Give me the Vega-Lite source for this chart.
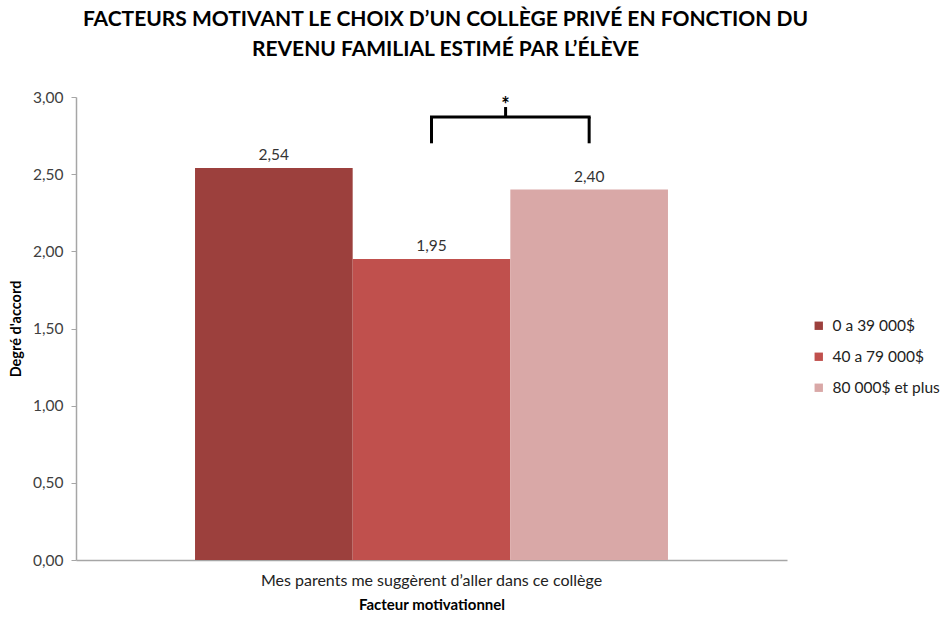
{
  "$schema": "https://vega.github.io/schema/vega-lite/v6.json",
  "width": 711,
  "height": 463,
  "autosize": {"type": "none"},
  "padding": {"left": 76, "top": 97, "right": 154, "bottom": 57},
  "background": "white",
  "config": {
    "font": "Lato",
    "view": {"stroke": null},
    "locale": {"number": {"decimal": ",", "thousands": " ", "grouping": [3], "currency": ["", " $"]}}
  },
  "title": {
    "text": ["FACTEURS MOTIVANT LE CHOIX D’UN COLLÈGE PRIVÉ EN FONCTION DU", "REVENU FAMILIAL ESTIMÉ PAR L’ÉLÈVE"],
    "font": "Lato",
    "fontSize": 21,
    "fontWeight": "bold",
    "color": "#000000",
    "anchor": "middle",
    "dx": 14,
    "offset": 30,
    "lineHeight": 30
  },
  "datasets": {
    "barres": [
      {"groupe": "0 a 39 000$", "degre": 2.54},
      {"groupe": "40 a 79 000$", "degre": 1.95},
      {"groupe": "80 000$ et plus", "degre": 2.40}
    ],
    "categorie": [
      {"facteur": "Mes parents me suggèrent d’aller dans ce collège", "groupe": "40 a 79 000$"}
    ],
    "accolade": [
      {"de": "40 a 79 000$", "a": "80 000$ et plus", "haut": 2.87, "bas": 2.70, "pointe": 2.935, "signe": "*"}
    ],
    "jambes": [
      {"groupe": "40 a 79 000$", "haut": 2.87, "bas": 2.70},
      {"groupe": "80 000$ et plus", "haut": 2.87, "bas": 2.70}
    ]
  },
  "layer": [
    {
      "data": {"name": "barres"},
      "mark": {"type": "bar"},
      "encoding": {
        "x": {
          "field": "groupe", "type": "nominal",
          "scale": {"domain": ["0 a 39 000$", "40 a 79 000$", "80 000$ et plus"], "paddingInner": 0, "paddingOuter": 0.755},
          "axis": {
            "title": "Facteur motivationnel", "titleFontSize": 15, "titleFontWeight": "bold", "titleColor": "#000000",
            "titlePadding": 37, "labels": false, "ticks": false, "domainColor": "#a6a6a6", "domainWidth": 1.5, "grid": false
          }
        },
        "y": {
          "field": "degre", "type": "quantitative",
          "scale": {"domain": [0, 3], "nice": false},
          "axis": {
            "title": "Degré d'accord", "titleFontSize": 14.5, "titleFontWeight": "bold", "titleColor": "#000000",
            "titlePadding": 9, "values": [0, 0.5, 1, 1.5, 2, 2.5, 3], "format": ".2f",
            "labelFontSize": 15.5, "labelColor": "#404040", "labelPadding": 8,
            "tickSize": 5, "tickColor": "#a6a6a6", "domainColor": "#a6a6a6", "domainWidth": 1.5, "grid": false
          }
        },
        "color": {
          "field": "groupe", "type": "nominal",
          "scale": {"domain": ["0 a 39 000$", "40 a 79 000$", "80 000$ et plus"], "range": ["#9c403d", "#c0504d", "#d9a8a7"]},
          "legend": {
            "title": null, "orient": "none", "legendX": 735, "legendY": 221,
            "symbolType": "square", "symbolSize": 70, "symbolStrokeWidth": 0,
            "labelFontSize": 15.5, "labelColor": "#222222", "rowPadding": 14, "labelOffset": 6
          }
        }
      }
    },
    {
      "data": {"name": "barres"},
      "mark": {"type": "text", "baseline": "alphabetic", "dy": -8, "fontSize": 15.5, "color": "#333333"},
      "encoding": {
        "x": {"field": "groupe", "type": "nominal"},
        "y": {"field": "degre", "type": "quantitative"},
        "text": {"field": "degre", "type": "quantitative", "format": ".2f"}
      }
    },
    {
      "data": {"name": "categorie"},
      "mark": {"type": "text", "baseline": "middle", "dy": 21, "fontSize": 16, "color": "#222222"},
      "encoding": {
        "x": {"field": "groupe", "type": "nominal"},
        "y": {"datum": 0},
        "text": {"field": "facteur"}
      }
    },
    {
      "data": {"name": "accolade"},
      "mark": {"type": "rule", "strokeWidth": 3, "color": "#000000", "strokeCap": "square"},
      "encoding": {
        "x": {"field": "de", "type": "nominal"},
        "x2": {"field": "a"},
        "y": {"field": "haut", "type": "quantitative"}
      }
    },
    {
      "data": {"name": "jambes"},
      "mark": {"type": "rule", "strokeWidth": 3, "color": "#000000"},
      "encoding": {
        "x": {"field": "groupe", "type": "nominal"},
        "y": {"field": "haut", "type": "quantitative"},
        "y2": {"field": "bas"}
      }
    },
    {
      "data": {"name": "accolade"},
      "mark": {"type": "rule", "strokeWidth": 3, "color": "#000000"},
      "encoding": {
        "x": {"field": "de", "type": "nominal", "bandPosition": 0.97},
        "y": {"field": "haut", "type": "quantitative"},
        "y2": {"field": "pointe"}
      }
    },
    {
      "data": {"name": "accolade"},
      "mark": {"type": "text", "baseline": "alphabetic", "dy": 5, "fontSize": 20, "fontWeight": "bold", "color": "#000000"},
      "encoding": {
        "x": {"field": "de", "type": "nominal", "bandPosition": 0.97},
        "y": {"field": "pointe", "type": "quantitative"},
        "text": {"field": "signe"}
      }
    }
  ]
}
